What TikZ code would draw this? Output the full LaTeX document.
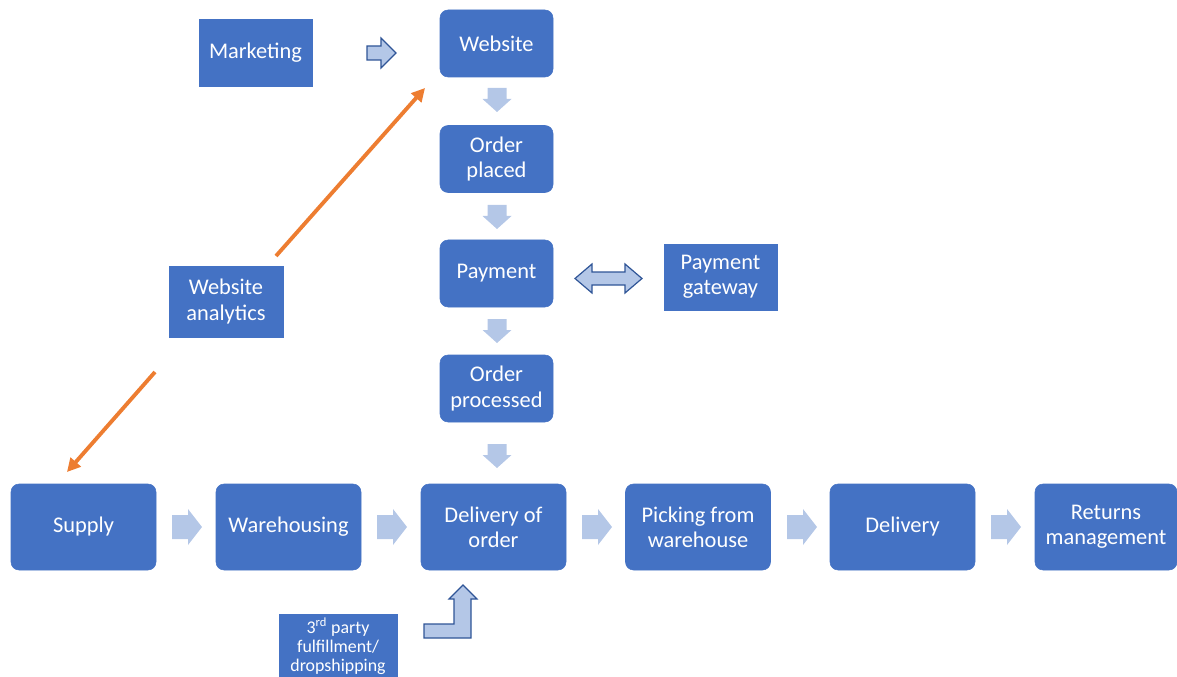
\documentclass[tikz,border=0pt]{standalone}
\usepackage{fontspec}
\setmainfont{Carlito}
\usetikzlibrary{arrows.meta}
\definecolor{boxblue}{HTML}{4472C4}
\definecolor{arrowfill}{HTML}{B4C7E7}
\definecolor{arrowline}{HTML}{2F5597}
\definecolor{orangeline}{HTML}{ED7D31}
\tikzset{
  box/.style={fill=boxblue, draw=boxblue, text=white, align=center, inner sep=0pt,
    font=\fontsize{16.8}{19}\selectfont},
  rbox/.style={box, rounded corners=6pt},
  colbox/.style={rbox, minimum width=84.75pt, minimum height=50.25pt},
  rowbox/.style={rbox, minimum width=108.75pt, minimum height=64.5pt},
  plainarrow/.style={fill=arrowfill},
  outlinearrow/.style={fill=arrowfill, draw=arrowline, line width=0.9pt, line join=miter},
  orangearrow/.style={draw=orangeline, line width=2.9pt, -{Triangle[length=10pt,width=10pt]}},
  pics/rarr/.style={code={\fill[plainarrow] (0,-12)--(16,-12)--(16,-18)--(30,0)--(16,18)--(16,12)--(0,12)--cycle;}},
  pics/darr/.style={code={\fill[plainarrow] (-9.5,0)--(9.5,0)--(9.5,11)--(14.5,11)--(0,24)--(-14.5,11)--(-9.5,11)--cycle;}}
}
\begin{document}
\begin{tikzpicture}[x=0.75pt,y=-0.75pt]
\useasboundingbox (0,0) rectangle (1177,677);
% top column
\node[colbox] (web) at (496.5,43.5) {Website};
\node[colbox] (placed) at (496.5,159) {Order\\placed};
\node[colbox] (pay) at (496.5,273.5) {Payment};
\node[colbox] (proc) at (496.5,388.5) {Order\\processed};
% side boxes
\node[box, minimum width=84.75pt, minimum height=50.25pt] (mkt) at (255.5,52.5) {Marketing};
\node[box, minimum width=84.75pt, minimum height=49.5pt] (gate) at (720.5,277) {Payment\\gateway};
\node[box, minimum width=85.5pt, minimum height=53.25pt] (ana) at (226,301.5) {Website\\analytics};
\node[box, minimum width=88.5pt, minimum height=48pt, font=\fontsize{13.4}{14.2}\selectfont] (third) at (338,646) {3\textsuperscript{rd} party\\fulfillment/\\dropshipping};
% bottom row
\node[rowbox] (supply) at (83.5,527) {Supply};
\node[rowbox] (ware) at (288.5,527) {Warehousing};
\node[rowbox] (deliv) at (493.5,527) {Delivery of\\order};
\node[rowbox] (pick) at (698,527) {Picking from\\warehouse};
\node[rowbox] (deliv2) at (902.5,527) {Delivery};
\node[rowbox, minimum width=106.5pt] (ret) at (1106,527) {Returns\\management};
% vertical block arrows
\pic at (497,88) {darr};
\pic at (497,205) {darr};
\pic at (497,319) {darr};
\pic at (497,444) {darr};
% horizontal block arrows
\pic at (172,527) {rarr};
\pic at (377,527) {rarr};
\pic at (582,527) {rarr};
\pic at (787,527) {rarr};
\pic at (991,527) {rarr};
% marketing arrow
\draw[outlinearrow] (367,46)--(381,46)--(381,38)--(396,53)--(381,68)--(381,60)--(367,60)--cycle;
% double arrow
\draw[outlinearrow] (575,278.5)--(592,264)--(592,272)--(625,272)--(625,264)--(642,278.5)--(625,293)--(625,285)--(592,285)--(592,293)--cycle;
% bent arrow
\draw[outlinearrow] (424,624)--(454,624)--(454,599)--(449,599)--(463,585)--(477,599)--(471,599)--(471,638)--(424,638)--cycle;
% orange arrows
\coordinate (a1s) at (276,256);
\coordinate (a1e) at (425,88);
\coordinate (a2s) at (155,372);
\coordinate (a2e) at (67,472);
\draw[orangearrow] (a1s) -- (a1e);
\draw[orangearrow] (a2s) -- (a2e);
\end{tikzpicture}
\end{document}
